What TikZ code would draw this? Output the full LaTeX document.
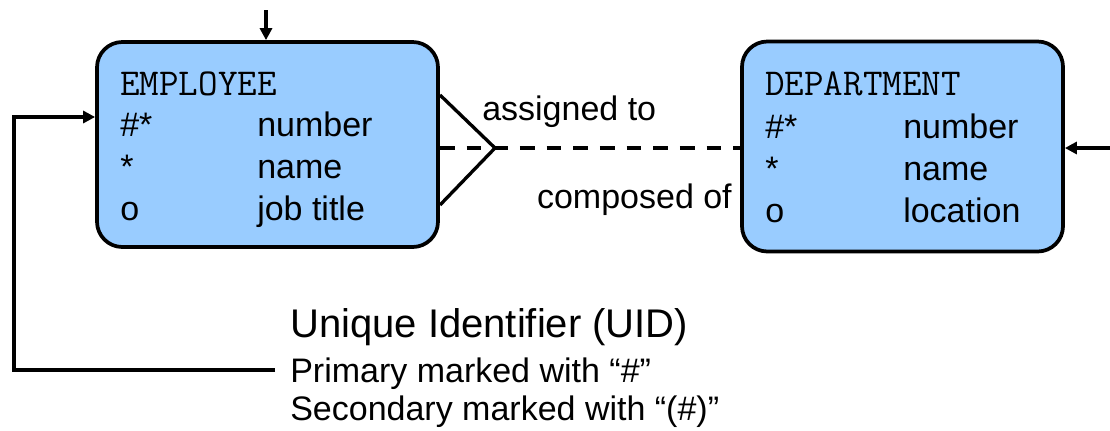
\documentclass[tikz,border=0pt]{standalone}
\usepackage{fontspec}
\setmainfont{Liberation Sans}
\usepackage{tikz}
\usetikzlibrary{arrows.meta,positioning}

\definecolor{entityblue}{HTML}{99CCFF}

\tikzset{
  entity/.style={draw,line width=2.8pt,fill=entityblue,rounded corners=19pt,inner sep=0pt},
  txt/.style={inner sep=0pt,anchor=base west,font=\fontsize{25.5}{30}\selectfont},
  ttl/.style={txt,font=\fontsize{28.5}{30}\selectfont\ttfamily},
  big/.style={txt,font=\fontsize{30}{36}\selectfont},
  link/.style={line width=2.5pt}
}

\begin{document}
\begin{tikzpicture}[x=0.75pt,y=-0.75pt,>={Triangle[length=9pt,width=9pt]}]
\useasboundingbox (0,0) rectangle (1110,430);

% entities
\node[entity,minimum width=255.75pt,minimum height=153.75pt] (emp)  at (267.5,144.5) {};
\node[entity,minimum width=240.75pt,minimum height=157.5pt]  (dept) at (902.5,146.5) {};

\node[ttl] (empname) at (120,95) {EMPLOYEE};
\foreach \k/\t [count=\i] in {\#*/number, */name, o/job title} {
  \node[txt] (emp-k\i) at (120,95+41.7*\i) {\k};
  \node[txt] (emp-v\i) at (257,95+41.7*\i) {\t};
}

\node[ttl] (deptname) at (765,95) {DEPARTMENT};
\foreach \k/\t [count=\i] in {\#*/number, */name, o/location} {
  \node[txt] (dept-k\i) at (765,96+42*\i) {\k};
  \node[txt] (dept-v\i) at (903,96+42*\i) {\t};
}

% relationship
\coordinate (apex) at (495,148);
\coordinate (cftop) at (440,95);
\coordinate (cfbot) at (440,205);
\draw[link] (cftop) -- (apex) -- (cfbot);
\draw[link,line width=2.8pt,dash pattern=on 11pt off 9pt] (emp.east |- apex) -- (dept.west |- apex);
\node[txt] (assigned) at (482,120) {assigned to};
\node[txt,anchor=base east] (composed) at (732,208) {composed of};

% arrows in
\coordinate (topin) at (266,10);
\draw[link,->] (topin) -- (topin |- emp.north);
\coordinate (rightin) at (1110,148);
\draw[link,->] (rightin) -- (rightin -| dept.east);

% UID note
\node[big] (uid) at (290,337) {Unique Identifier (UID)};
\node[txt] (prim) at (290,382) {Primary marked with “\#”};
\node[txt] (sec)  at (290,420) {Secondary marked with “(\#)”};
\coordinate (uidline) at (275,370);
\coordinate (loop) at (14,117);
\draw[link,->] (uidline) -| (loop) -- (loop -| emp.west);
\end{tikzpicture}
\end{document}
